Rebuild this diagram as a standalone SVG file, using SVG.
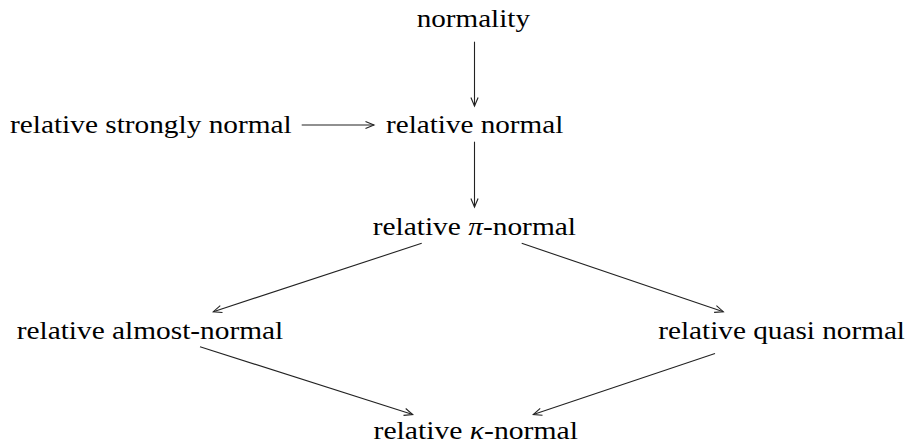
<svg xmlns="http://www.w3.org/2000/svg" width="907" height="446" viewBox="0 0 907 446">
<defs>
<style>
.lbl{font-family:"Liberation Serif","Times New Roman",serif;font-size:25px;fill:#000;}
.m{font-style:italic;}
.edge{stroke:#222;stroke-width:1.1;fill:none;}
</style>
<marker id="ah" markerUnits="userSpaceOnUse" markerWidth="12" markerHeight="10" refX="0" refY="0" viewBox="-10 -5 12 10" orient="auto" overflow="visible">
<path d="M-8.5,-3.6 L0,0 L-8.5,3.6" fill="none" stroke="#222" stroke-width="1.1"/>
</marker>
</defs>
<rect width="907" height="446" fill="#fff"/>
<g id="n-normality"><text class="lbl" x="416.7" y="27.3" textLength="113.3" lengthAdjust="spacingAndGlyphs">normality</text></g>
<g id="n-strongly"><text class="lbl" x="10" y="133.3" textLength="281.7" lengthAdjust="spacingAndGlyphs">relative strongly normal</text></g>
<g id="n-normal"><text class="lbl" x="386" y="133.3" textLength="177.3" lengthAdjust="spacingAndGlyphs">relative normal</text></g>
<g id="n-pi"><text class="lbl" x="372.7" y="235" textLength="203.3" lengthAdjust="spacingAndGlyphs">relative <tspan class="m">π</tspan>-normal</text></g>
<g id="n-almost"><text class="lbl" x="16.7" y="338.5" textLength="266.6" lengthAdjust="spacingAndGlyphs">relative almost-normal</text></g>
<g id="n-quasi"><text class="lbl" x="658.3" y="339" textLength="246.7" lengthAdjust="spacingAndGlyphs">relative quasi normal</text></g>
<g id="n-kappa"><text class="lbl" x="373.5" y="438.5" textLength="204.5" lengthAdjust="spacingAndGlyphs">relative <tspan class="m">κ</tspan>-normal</text></g>
<g id="connectors">
<line class="edge" x1="474.5" y1="41.7" x2="474.5" y2="106" marker-end="url(#ah)"/>
<line class="edge" x1="301.7" y1="125" x2="374" y2="125" marker-end="url(#ah)"/>
<line class="edge" x1="474.5" y1="141.7" x2="474.5" y2="207" marker-end="url(#ah)"/>
<line class="edge" x1="421.7" y1="243.3" x2="213.3" y2="311.7" marker-end="url(#ah)"/>
<line class="edge" x1="521.7" y1="243.3" x2="723.3" y2="311.7" marker-end="url(#ah)"/>
<line class="edge" x1="200" y1="346.7" x2="412.7" y2="414.5" marker-end="url(#ah)"/>
<line class="edge" x1="715" y1="353.5" x2="533.3" y2="414.5" marker-end="url(#ah)"/>
</g>
</svg>
